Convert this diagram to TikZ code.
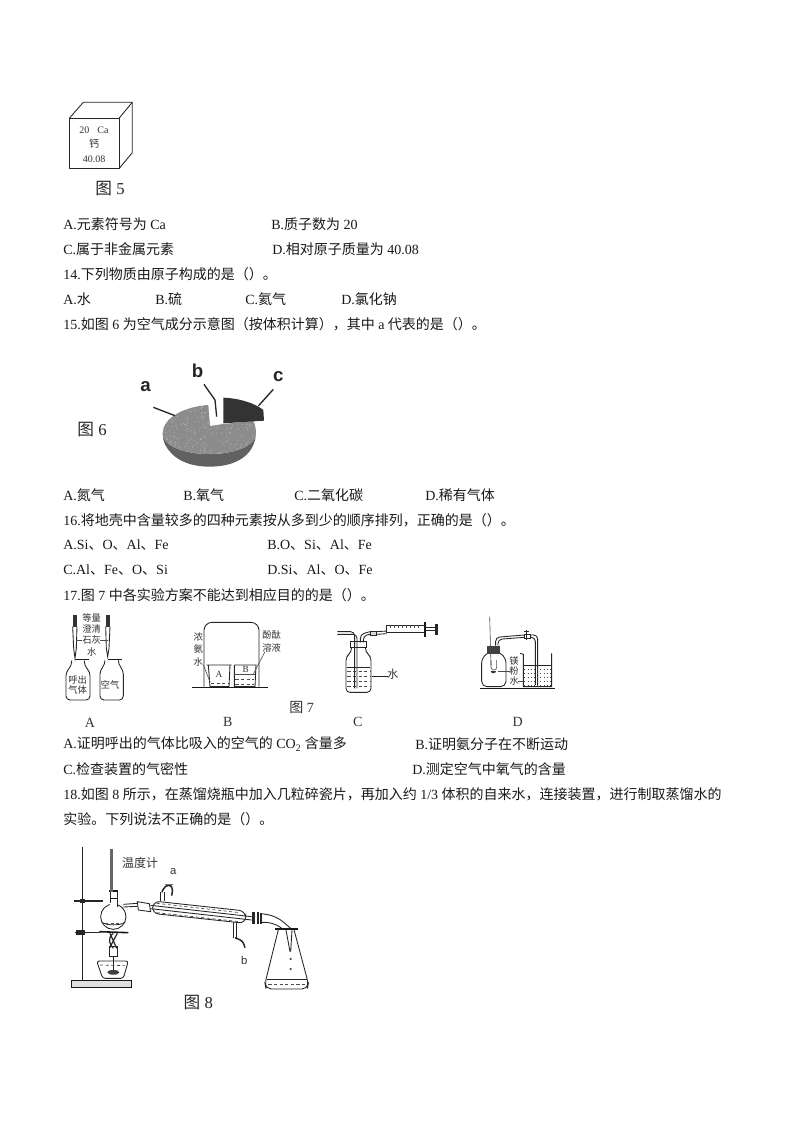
\documentclass[tikz,border=0pt]{standalone}
\usepackage{fontspec}
\setmainfont{Liberation Serif}
\setsansfont{Liberation Sans}
\newfontfamily\cjkf{Noto Sans CJK SC}
\newcommand{\zh}[1]{{\cjkf #1}}
\newcounter{tn}
\tikzset{
  linetext/.style={anchor=west,inner sep=0pt,font=\fontsize{10.5pt}{12pt}\selectfont,text=black!90},
  figtext/.style={inner sep=0pt,font=\fontsize{7pt}{8pt}\selectfont,text=black!80},
  caption/.style={inner sep=0pt,font=\fontsize{12.5pt}{14pt}\selectfont,text=black!85},
  optlabel/.style={inner sep=0pt,font=\fontsize{10.5pt}{12pt}\selectfont,text=black!80},
  pielabel/.style={inner sep=0pt,font=\sffamily\bfseries\fontsize{14pt}{15pt}\selectfont,text=black!85},
  ink/.style={draw=black!85,line width=0.65pt},
  thin ink/.style={draw=black!70,line width=0.45pt},
  thick ink/.style={draw=black!90,line width=1.2pt},
  water/.style={draw=black!70,line width=0.5pt,dash pattern=on 2.4pt off 1.8pt},
}
\newcommand{\LT}[3]{\stepcounter{tn}\node[linetext] (t\arabic{tn}) at (#1,#2) {#3};}
\newcommand{\FT}[3]{\stepcounter{tn}\node[figtext] (t\arabic{tn}) at (#1,#2) {#3};}
\newcommand{\CP}[3]{\stepcounter{tn}\node[caption] (t\arabic{tn}) at (#1,#2) {#3};}
\newcommand{\OL}[3]{\stepcounter{tn}\node[optlabel] (t\arabic{tn}) at (#1,#2) {#3};}
\begin{document}
\begin{tikzpicture}[x=0.75pt,y=-0.75pt]
\useasboundingbox (0,0) rectangle (794,1123);
\fill[white] (0,0) rectangle (794,1123);
% ---------- text lines
\LT{63}{224}{A.\zh{元素符号为} Ca}
\LT{271}{224}{B.\zh{质子数为} 20}
\LT{63}{249}{C.\zh{属于非金属元素}}
\LT{272}{249}{D.\zh{相对原子质量为} 40.08}
\LT{63}{274}{14.\zh{下列物质由原子构成的是（）。}}
\LT{63}{299}{A.\zh{水}}
\LT{155}{299}{B.\zh{硫}}
\LT{245}{299}{C.\zh{氦气}}
\LT{341}{299}{D.\zh{氯化钠}}
\LT{63}{324}{15.\zh{如图} 6 \zh{为空气成分示意图（按体积计算），其中} a \zh{代表的是（）。}}
\LT{63}{495}{A.\zh{氮气}}
\LT{183}{495}{B.\zh{氧气}}
\LT{294}{495}{C.\zh{二氧化碳}}
\LT{425}{495}{D.\zh{稀有气体}}
\LT{63}{520}{16.\zh{将地壳中含量较多的四种元素按从多到少的顺序排列，正确的是（）。}}
\LT{63}{545}{A.Si\zh{、}O\zh{、}Al\zh{、}Fe}
\LT{267}{545}{B.O\zh{、}Si\zh{、}Al\zh{、}Fe}
\LT{63}{570}{C.Al\zh{、}Fe\zh{、}O\zh{、}Si}
\LT{267}{570}{D.Si\zh{、}Al\zh{、}O\zh{、}Fe}
\LT{63}{595}{17.\zh{图} 7 \zh{中各实验方案不能达到相应目的的是（）。}}
\LT{63}{744}{A.\zh{证明呼出的气体比吸入的空气的} CO\textsubscript{2} \zh{含量多}}
\LT{415}{744}{B.\zh{证明氨分子在不断运动}}
\LT{63}{769}{C.\zh{检查装置的气密性}}
\LT{412}{769}{D.\zh{测定空气中氧气的含量}}
\LT{63}{794}{18.\zh{如图} 8 \zh{所示，在蒸馏烧瓶中加入几粒碎瓷片，再加入约} 1/3 \zh{体积的自来水，连接装置，进行制取蒸馏水的}}
\LT{63}{819}{\zh{实验。下列说法不正确的是（）。}}
% ---------- fig 5 cube
\draw[ink,line join=round] (69.3,118.3) rectangle (119,168.7);
\draw[ink,line join=round] (69.3,118.3) -- (83.3,102.3) -- (132.3,102.3) -- (119,118.3);
\draw[ink,line join=round] (132.3,102.3) -- (132.3,152.7) -- (119,168.7);
\tikzset{figtext/.append style={font=\fontsize{7.5pt}{8pt}\selectfont}}
\FT{94}{130.7}{20\hspace{6pt}Ca}
\FT{94}{144}{\zh{钙}}
\FT{94}{159}{40.08}
\tikzset{figtext/.append style={font=\fontsize{7pt}{8pt}\selectfont}}
\CP{110}{189}{\zh{图} 5}
% ---------- fig 6 pie
\begin{scope}[shift={(60,350)},x=0.25pt,y=-0.25pt]
  \fill[black!62] (308,250) .. controls (308,262) and (310,272) .. (316,285) .. controls (340,330) and (390,350) .. (448,350) .. controls (510,350) and (560,330) .. (580,285) .. controls (585,272) and (588,262) .. (588,250) .. controls (588,285) and (530,312) .. (448,312) .. controls (365,312) and (308,285) .. (308,250) -- cycle;
  \fill[black!45] (445,165) .. controls (370,170) and (308,205) .. (308,250) .. controls (308,285) and (365,312) .. (448,312) .. controls (530,312) and (588,285) .. (588,250) .. controls (588,238) and (586,225) .. (580,213) -- (490,222) -- (450,228) -- cycle;
  \pgfmathsetseed{7}
  \begin{scope}
    \clip (445,165) .. controls (370,170) and (308,205) .. (308,250) .. controls (308,285) and (365,312) .. (448,312) .. controls (530,312) and (588,285) .. (588,250) .. controls (588,238) and (586,225) .. (580,213) -- (490,222) -- (450,228) -- cycle;
    \foreach \i in {1,...,260} {
      \pgfmathsetmacro{\px}{305+rnd*285}
      \pgfmathsetmacro{\py}{165+rnd*150}
      \fill[black!30] (\px,\py) circle[radius=0.45pt];
    }
  \end{scope}
  \fill[black!80] (490,143) .. controls (540,145) and (585,160) .. (610,180) -- (612,212) -- (490,220) -- cycle;
  \draw[draw=black!85,line width=1pt] (280,172) -- (345,197);
  \draw[draw=black!85,line width=1pt] (432,103) -- (465,150) -- (470,200);
  \draw[draw=black!85,line width=1pt] (640,118) -- (595,168);
  \node[pielabel] (pa) at (257,110) {a};
  \node[pielabel] (pb) at (413,63) {b};
  \node[pielabel] (pc) at (655,80) {c};
\end{scope}
\CP{92}{430}{\zh{图} 6}
% ---------- fig 7 A
\begin{scope}[shift={(55,605)},x=0.25pt,y=-0.25pt]
  \fill[black!80] (53,30) rectangle (66,65);
  \fill[black!80] (152,30) rectangle (165,65);
  \draw[ink] (53,65) -- (56,130) -- (60,160) -- (64,130) -- (66,65);
  \draw[ink] (152,65) -- (154,130) -- (158,155) -- (162,130) -- (165,65);
  \draw[thin ink] (62,105) -- (82,105) (136,105) -- (158,105);
  \draw[thick ink] (60,163) -- (102,163) (160,163) -- (202,163);
  \draw[ink,rounded corners=3pt] (50,167) -- (50,182) -- (33,200) -- (33,285) -- (105,285) -- (105,200) -- (88,182) -- (88,167);
  \draw[ink,rounded corners=3pt] (150,167) -- (150,178) -- (135,196) -- (135,285) -- (205,285) -- (205,196) -- (190,178) -- (190,167);
\end{scope}
\FT{91.7}{617.7}{\zh{等量}}
\FT{91.7}{628.5}{\zh{澄清}}
\FT{91.7}{640}{\zh{石灰}}
\FT{91.7}{651.7}{\zh{水}}
\FT{77.7}{680}{\zh{呼出}}
\FT{77.7}{690}{\zh{气体}}
\FT{110}{685}{\zh{空气}}
\OL{90}{723}{A}
% ---------- fig 7 B
\begin{scope}[shift={(55,605)},x=0.25pt,y=-0.25pt]
  \draw[ink,rounded corners=6pt] (447,245) -- (447,52) -- (612,52) -- (612,245);
  \draw[thick ink] (410,248) -- (640,248);
  \draw[ink] (455,180) -- (530,180) (460,180) -- (465,245) -- (522,245) -- (525,180);
  \draw[ink] (538,180) -- (605,180) (538,180) -- (538,245) -- (600,245) -- (603,180);
  \draw[water] (468,235) -- (520,235);
  \draw[thin ink] (538,207) -- (600,207);
  \draw[water] (541,222) -- (598,222) (541,237) -- (598,237);
  \draw[thin ink] (445,180) -- (465,230);
  \draw[thin ink] (630,140) -- (595,207);
\end{scope}
\FT{219}{674}{A}
\FT{245.7}{669}{B}
\FT{198.3}{636.7}{\zh{浓}}
\FT{198.3}{648.5}{\zh{氨}}
\FT{198.3}{661.7}{\zh{水}}
\FT{271.7}{635}{\zh{酚酞}}
\FT{271.7}{647.7}{\zh{溶液}}
\OL{227.7}{722}{B}
\OL{301.7}{707}{\zh{图} 7}
% ---------- fig 7 C
\begin{scope}[shift={(320,605)},x=0.25pt,y=-0.25pt]
  \draw[ink,rounded corners=3pt] (95,130) -- (95,140) -- (78,155) -- (78,262) -- (153,262) -- (153,155) -- (136,140) -- (136,130);
  \draw[ink,fill=white] (90,110) rectangle (140,128);
  \draw[ink] (96,128) -- (133,128);
  \draw[ink] (80,188) -- (151,188);
  \foreach \yy in {200,215,230,245} \draw[water] (82,\yy) -- (150,\yy);
  \draw[ink,rounded corners=3pt] (52,80) -- (104,80) -- (104,250);
  \draw[ink,rounded corners=3pt] (52,88) -- (111,88) -- (111,250);
  \draw[ink,rounded corners=3pt] (121,112) -- (121,88) -- (150,80);
  \draw[ink,rounded corners=3pt] (130,112) -- (130,92) -- (150,88);
  \draw[ink,fill=black!15] (150,78) rectangle (170,91);
  \draw[ink] (170,80) -- (200,78) (170,88) -- (200,86);
  \draw[ink] (200,60) rectangle (315,82);
  \foreach \xx in {210,222,234,246,258,270,282,294} \draw[thin ink] (\xx,60) -- (\xx,70);
  \draw[thick ink] (315,50) -- (315,95);
  \draw[ink] (315,68) -- (350,68) (315,76) -- (350,76);
  \fill[black!85] (346,58) rectangle (354,90);
  \draw[ink] (155,213) -- (205,213);
\end{scope}
\FT{392.7}{674.3}{\fontsize{8.5pt}{9pt}\selectfont\zh{水}}
\OL{357.7}{722.3}{C}
% ---------- fig 7 D
\begin{scope}[shift={(320,605)},x=0.25pt,y=-0.25pt]
  \draw[thick ink] (480,250) -- (705,250);
  \draw[ink,rounded corners=4pt] (503,145) -- (485,158) -- (485,245) -- (558,245) -- (558,158) -- (540,145);
  \fill[black!75] (500,122) rectangle (540,146);
  \draw[thin ink] (509,35) -- (513,180);
  \draw[thin ink,rounded corners=2pt] (513,165) -- (513,195) -- (530,195) -- (530,165);
  \fill[black!80] (512,198) arc[start angle=180,end angle=360,x radius=2pt,y radius=1.7pt] -- cycle;
  \draw[ink,rounded corners=3pt] (527,122) -- (527,97) -- (612,90);
  \draw[ink,rounded corners=3pt] (534,122) -- (534,103) -- (612,97);
  \draw[ink,rounded corners=3pt] (630,90) -- (653,90) -- (653,240);
  \draw[ink,rounded corners=3pt] (630,97) -- (646,97) -- (646,240);
  \draw[ink,fill=white] (612,88) rectangle (630,100);
  \draw[ink] (620,75) -- (620,105) (612,78) -- (628,78);
  \draw[ink] (600,145) -- (610,148) -- (610,245) -- (695,245) -- (695,145);
  \draw[ink] (612,180) -- (693,180);
  \foreach \yy in {192,204,216,228,240} \draw[thin ink,dash pattern=on 0.6pt off 1.8pt] (613,\yy) -- (692,\yy);
  \draw[thin ink] (535,200) -- (570,200);
  \draw[thin ink] (595,228) -- (615,228);
\end{scope}
\FT{514}{661}{\zh{镁}}
\FT{514}{671}{\zh{粉}}
\FT{514.3}{681}{\zh{水}}
\OL{517.7}{721.7}{D}
% ---------- fig 8
\begin{scope}[shift={(60,835)},x=0.25pt,y=-0.25pt]
  \draw[draw=black!85,line width=1.2pt] (68,35) -- (68,435);
  \draw[thick ink,fill=black!12] (35,437) rectangle (215,458);
  \draw[draw=black!85,line width=1pt] (42,198) -- (130,198);
  \fill[black!85] (60,192) rectangle (76,204);
  \draw[draw=black!85,line width=1pt] (45,293) -- (120,293);
  \fill[black!85] (48,286) rectangle (76,300);
  \draw[thick ink] (118,290) -- (205,293);
  \draw[ink,fill=white] (160,245) circle[radius=9.5pt];
  \draw[ink,fill=white] (150,170) -- (150,213) -- (172,213) -- (172,170) -- cycle;
  \fill[white] (151,205) rectangle (171,222);
  \draw[thick ink] (148,168) -- (174,168) (150,190) -- (172,190);
  \draw[ink] (126,262) .. controls (140,272) and (180,272) .. (195,262);
  \draw[water] (135,265) -- (187,265);
  \fill[black!60] (151,42) rectangle (160,172);
  \draw[ink] (190,208) -- (232,205) (190,216) -- (232,214);
  \draw[ink,fill=white] (232,200) -- (268,206) -- (272,230) -- (235,225) -- cycle;
  \draw[draw=black!85,line width=0.9pt] (150,295) -- (170,340) (172,295) -- (148,340) (160,295) .. controls (140,310) and (150,330) .. (160,340);
  \draw[ink] (147,335) rectangle (172,365);
  \draw[ink,rounded corners=2pt] (110,378) -- (205,378) -- (190,430) -- (128,430) -- cycle;
  \draw[water] (120,390) -- (195,392);
  \draw[draw=black!85,line width=1.2pt] (160,365) -- (160,410);
  \fill[black!75] (160,412) ellipse[x radius=4.5pt,y radius=1.8pt];
  \draw[ink,rounded corners=5pt,fill=white] (280,198) -- (557,228) -- (557,265) -- (276,235) -- cycle;
  \draw[ink] (272,211) -- (575,245) (272,221) -- (575,255);
  \draw[water] (290,205) -- (540,233) (290,233) -- (540,260);
  \draw[ink] (300,198) -- (300,172) (312,198) -- (312,172);
  \draw[draw=black!85,line width=1.1pt,rounded corners=4pt] (306,172) -- (313,150) -- (340,150) -- (335,182);
  \draw[ink] (520,262) -- (520,308) (530,262) -- (530,308);
  \draw[draw=black!85,line width=1.1pt,rounded corners=2pt] (525,308) -- (548,318) -- (555,338);
  \fill[black!85] (577,232) rectangle (584,268);
  \fill[black!85] (590,232) rectangle (597,268);
  \fill[black!85] (600,234) rectangle (606,268);
  \draw[ink,rounded corners=6pt] (606,236) -- (650,244) -- (692,280);
  \draw[ink,rounded corners=6pt] (606,262) -- (640,262) -- (668,282);
  \draw[thick ink] (645,282) -- (713,282);
  \draw[ink,rounded corners=4pt] (655,284) -- (615,445) -- (618,462) -- (742,462) -- (745,445) -- (702,284);
  \draw[ink] (678,285) -- (690,350) (696,285) -- (692,350);
  \draw[ink] (620,432) -- (740,432);
  \draw[water] (625,448) -- (735,448);
  \fill[black!70] (692,372) circle[radius=0.9pt];
  \fill[black!70] (692,402) circle[radius=0.9pt];
\end{scope}
\FT{140}{862.7}{\fontsize{9pt}{10pt}\selectfont\zh{温度计}}
\FT{173.3}{871}{\fontsize{8.5pt}{10pt}\selectfont\sffamily a}
\FT{244.3}{960}{\fontsize{8.5pt}{10pt}\selectfont\sffamily b}
\CP{198.3}{1002.7}{\zh{图} 8}
\end{tikzpicture}
\end{document}
